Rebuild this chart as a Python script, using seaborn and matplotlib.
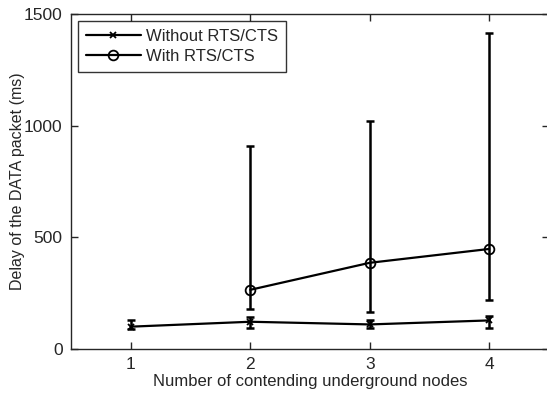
import numpy as np
import pandas as pd
import matplotlib
matplotlib.use("Agg")
import matplotlib.pyplot as plt
import seaborn as sns

nodes = [1, 2, 3, 4]

# without RTS/CTS
no_rts_mean = [100, 122, 110, 128]
no_rts_low = [88, 95, 92, 95]
no_rts_high = [128, 145, 130, 150]

# with RTS/CTS (no value for one node)
rts_nodes = [2, 3, 4]
rts_mean = [265, 386, 448]
rts_low = [177, 164, 218]
rts_high = [910, 1020, 1415]

sns.set_style("ticks")
plt.rcParams['font.family'] = ['Liberation Sans', 'DejaVu Sans']
plt.rcParams['xtick.direction'] = 'in'
plt.rcParams['ytick.direction'] = 'in'

fig = plt.figure(figsize=(5.47, 3.94), dpi=100)
ax = fig.add_axes([71 / 547, 45 / 394, 478 / 547, 335 / 394])

df1 = pd.DataFrame({"nodes": nodes, "delay": no_rts_mean})
df2 = pd.DataFrame({"nodes": rts_nodes, "delay": rts_mean})

sns.lineplot(data=df1, x="nodes", y="delay", ax=ax, color="black", lw=1.6,
             marker="x", markersize=5, mec="black", mew=1.3, label="Without RTS/CTS")
sns.lineplot(data=df2, x="nodes", y="delay", ax=ax, color="black", lw=1.6,
             marker="o", markersize=7, mfc="none", mec="black", mew=1.3,
             label="With RTS/CTS")

m1 = np.array(no_rts_mean)
ax.errorbar(nodes, m1, yerr=[m1 - np.array(no_rts_low), np.array(no_rts_high) - m1],
            fmt="none", ecolor="black", elinewidth=1.8, capsize=3, capthick=1.8)
m2 = np.array(rts_mean)
ax.errorbar(rts_nodes, m2, yerr=[m2 - np.array(rts_low), np.array(rts_high) - m2],
            fmt="none", ecolor="black", elinewidth=1.8, capsize=3, capthick=1.8)

ax.set_xlim(0.5, 4.5)
ax.set_ylim(0, 1500)
ax.set_xticks(nodes)
ax.set_yticks([0, 500, 1000, 1500])
ax.tick_params(top=True, right=True, labelsize=12.5, length=5, width=1, pad=6)
for s in ax.spines.values():
    s.set_visible(True)
    s.set_linewidth(1)
ax.set_xlabel("Number of contending underground nodes", fontsize=12, labelpad=1)
ax.set_ylabel("Delay of the DATA packet (ms)", fontsize=11.5, labelpad=-1)

leg = ax.legend(loc="upper left", fontsize=12, handlelength=3.3, frameon=True,
                fancybox=False, edgecolor="black", borderaxespad=0.4,
                labelspacing=0.3, handletextpad=0.3, borderpad=0.5)
leg.get_frame().set_linewidth(1)

fig.savefig("out.png", dpi=100)
